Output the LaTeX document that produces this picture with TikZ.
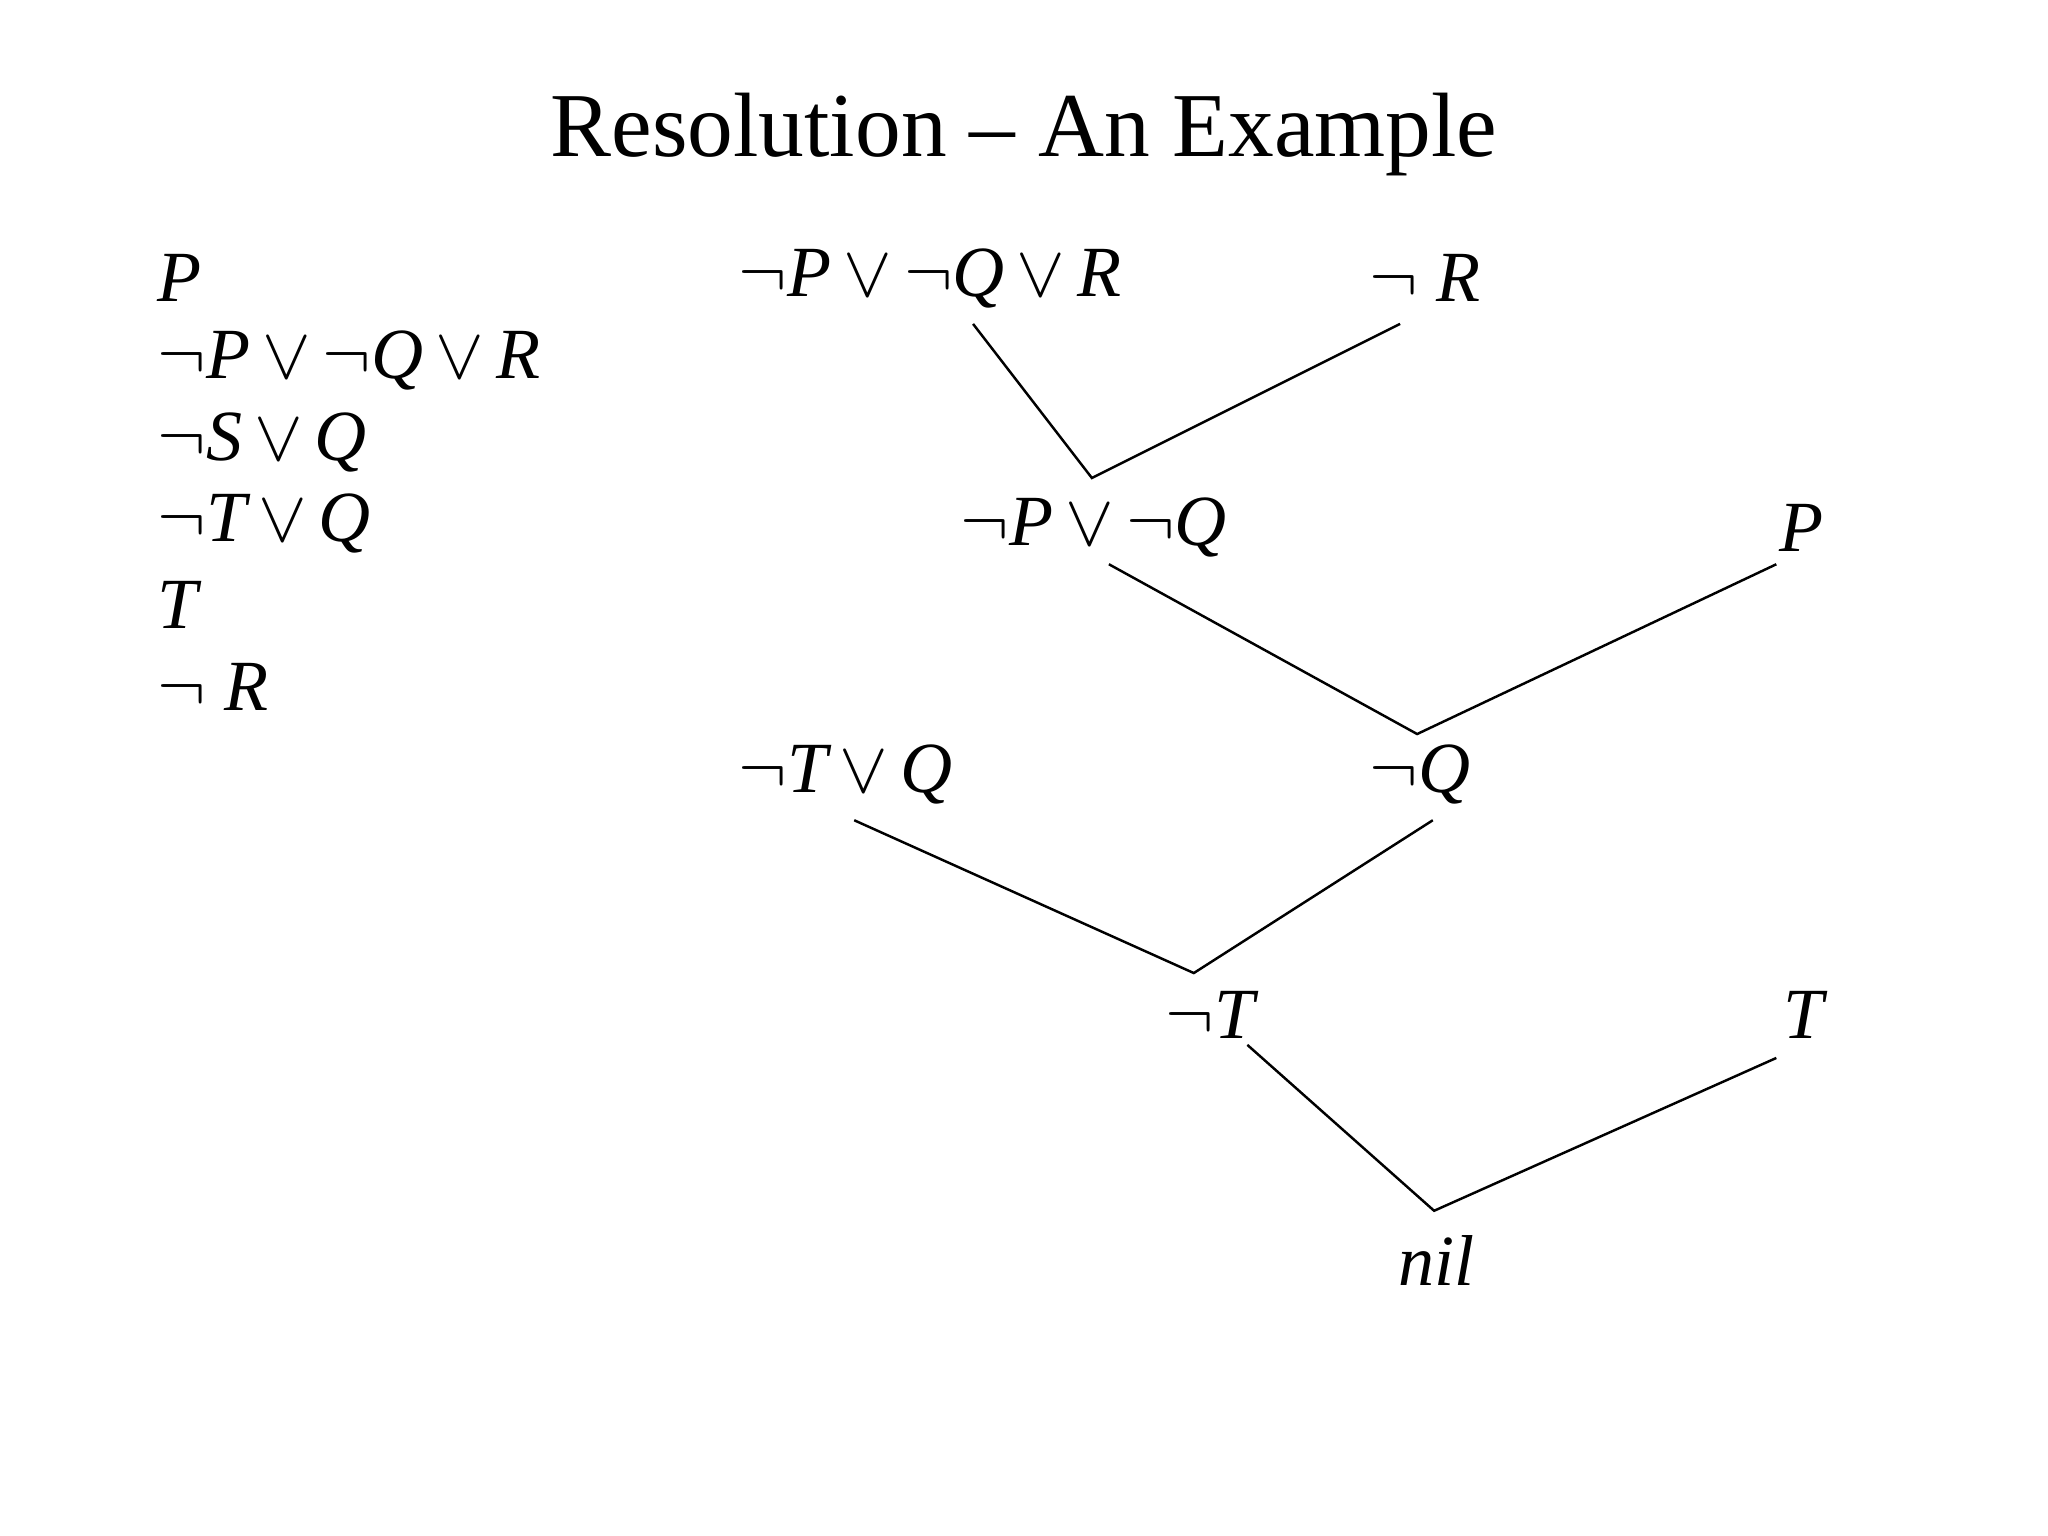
\documentclass[tikz,border=0pt]{standalone}
\usepackage{fontspec}
\setmainfont{Liberation Serif}
\begin{document}
\begin{tikzpicture}[x=0.01306cm,y=-0.01306cm,
  lbl/.style={anchor=west,inner sep=0pt,font=\fontsize{20.5}{24}\selectfont\itshape},
  ln/.style={line width=0.7pt,black}]
\useasboundingbox (0,0) rectangle (1568,1176);
\newcommand{\nn}{$\neg$}
\newcommand{\oo}{$\,\vee\,$}
\node[font=\fontsize{26}{30}\selectfont] (title) at (784,103) {Resolution -- An Example};
% list
\node[lbl] (l1) at (120,213) {P};
\node[lbl] (l2) at (120,276) {\nn P\oo\nn Q\oo R};
\node[lbl] (l3) at (120,339) {\nn S\oo Q};
\node[lbl] (l4) at (120,401) {\nn T\oo Q};
\node[lbl] (l5) at (120,463) {T};
\node[lbl] (l6) at (120,526) {\nn\ R};
% tree
\node[lbl] (a1) at (565,213) {\nn P\oo\nn Q\oo R};
\node[lbl] (a2) at (1048,213) {\nn\ R};
\node[lbl] (b1) at (735,404) {\nn P\oo\nn Q};
\node[lbl] (b2) at (1362,404) {P};
\node[lbl] (c1) at (565,593) {\nn T\oo Q};
\node[lbl] (c2) at (1048,593) {\nn Q};
\node[lbl] (d1) at (892,777) {\nn T};
\node[lbl] (d2) at (1365,777) {T};
\node[lbl,anchor=center] (e1) at (1100,965) {nil};
\coordinate (a1s) at (745,248); \coordinate (a2s) at (1072,248); \coordinate (j1) at (836,366);
\coordinate (b1s) at (849,432); \coordinate (b2s) at (1360,432); \coordinate (j2) at (1085,562);
\coordinate (c1s) at (654,628); \coordinate (c2s) at (1097,628); \coordinate (j3) at (914,745);
\coordinate (d1s) at (955,800); \coordinate (d2s) at (1360,810); \coordinate (j4) at (1098,927);
\draw[ln] (a1s) -- (j1) -- (a2s);
\draw[ln] (b1s) -- (j2) -- (b2s);
\draw[ln] (c1s) -- (j3) -- (c2s);
\draw[ln] (d1s) -- (j4) -- (d2s);
\end{tikzpicture}
\end{document}
